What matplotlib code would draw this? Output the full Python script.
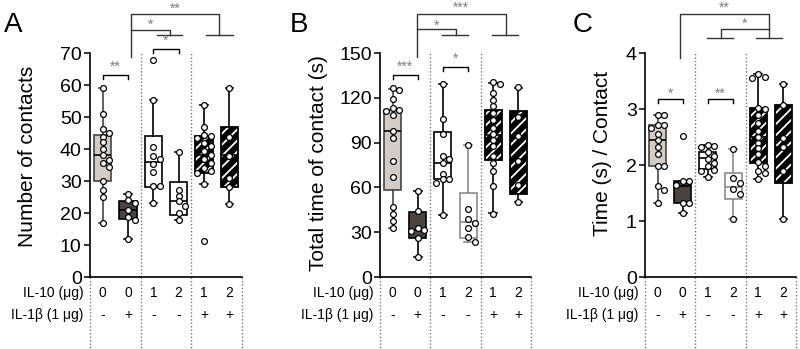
import matplotlib
matplotlib.use("Agg")
import matplotlib.pyplot as plt
import matplotlib.transforms as mtrans
from matplotlib.patches import PathPatch

plt.rcParams['font.family'] = ['Liberation Sans', 'DejaVu Sans']
plt.rcParams['hatch.linewidth'] = 1.3

# ---- data ----
il10_doses = ['0', '0', '1', '2', '1', '2']
il1b_flags = ['-', '+', '-', '-', '+', '+']
positions = [0.5, 1.5, 2.5, 3.5, 4.5, 5.5]

# box stats: (whislo, q1, median, q3, whishi)
box_a = [(16.8, 30.0, 38.0, 44.5, 59.0),
         (12.0, 18.2, 21.0, 23.6, 26.0),
         (23.0, 28.2, 35.9, 44.0, 55.3),
         (17.8, 19.4, 23.9, 29.8, 39.0),
         (29.2, 32.5, 38.0, 44.2, 53.6),
         (22.8, 28.1, 38.0, 46.8, 59.0)]
pts_a = [[59, 50.9, 46.2, 45.1, 43.9, 42.2, 40, 38, 36.6, 35.7, 34.3, 29.9, 27.2, 25.1, 16.9],
         [26, 24, 23, 21, 18.8, 17.8, 12],
         [67.8, 55.3, 40.6, 37.7, 36.9, 35.3, 32.8, 28.4, 28.4, 23],
         [39, 27.2, 25.4, 23.8, 22.3, 20.1, 17.8],
         [53.6, 47, 44.5, 44, 43.5, 42, 41, 39.5, 38, 37, 35.5, 34, 33, 32.5, 29.2, 11.2],
         [59, 43.6, 37.8, 31, 28.2, 22.8]]

box_b = [(33.0, 58.0, 97.8, 112.0, 125.7),
         (13.5, 26.4, 31.5, 43.8, 57.5),
         (41.5, 65.4, 76.5, 97.3, 129.0),
         (23.3, 26.0, 36.6, 56.0, 88.5),
         (42.6, 78.3, 95.0, 111.8, 129.7),
         (50.4, 55.4, 78.0, 111.4, 126.3)]
pts_b = [[126.5, 125.5, 119, 113.5, 112, 111, 108.5, 98, 93, 78, 67, 47, 42, 37.5, 32.5],
         [57.5, 44.5, 33, 31.5, 31, 26, 13.5],
         [129.5, 105.5, 95.5, 81, 79, 76.5, 69, 65.5, 65.5, 63, 41.5],
         [88.5, 45.3, 39, 36, 32.5, 26.5, 23.5],
         [130.5, 129.5, 123, 118.5, 114.5, 110, 105, 100, 96, 92, 88, 81, 76.5, 71, 61, 42.5],
         [127, 107, 94.5, 78, 61.5, 50.5]]

box_c = [(1.32, 1.98, 2.45, 2.71, 2.89),
         (1.15, 1.33, 1.63, 1.72, 1.72),
         (1.79, 1.93, 2.12, 2.23, 2.35),
         (1.03, 1.39, 1.61, 1.86, 2.28),
         (1.75, 2.04, 2.50, 3.01, 3.62),
         (1.03, 1.67, 2.33, 3.07, 3.45)]
pts_c = [[2.9, 2.89, 2.72, 2.71, 2.66, 2.56, 2.45, 2.33, 2.2, 1.99, 1.98, 1.62, 1.55, 1.33],
         [2.52, 1.72, 1.71, 1.65, 1.33, 1.32, 1.15],
         [2.35, 2.34, 2.33, 2.24, 2.16, 2.1, 2.04, 1.98, 1.91, 1.9, 1.79],
         [2.28, 1.76, 1.68, 1.57, 1.49, 1.03],
         [3.62, 3.57, 3.55, 3.02, 3.0, 2.9, 2.75, 2.6, 2.5, 2.4, 2.3, 2.2, 2.05, 1.98, 1.9, 1.85, 1.75],
         [3.45, 3.07, 2.48, 2.33, 1.9, 1.03]]

face_colors = ['#d3cbc6', '#4b4340', 'white', 'white', 'black', 'black']
edge_a = ['#444444', 'black', 'black', 'black', 'black', 'black']
edge_bc = ['#444444', 'black', 'black', '#8f8a86', 'black', 'black']

W, H = 800, 349
fig = plt.figure(figsize=(W / 100, H / 100), dpi=100)

AX_TOP, AX_BOT = 53, 277
ROW1, ROW2 = 293, 315


def fy(p):
    # pixel row -> axes fraction
    return (AX_BOT - p) / (AX_BOT - AX_TOP)


def make_axes(left, right):
    return fig.add_axes([left / W, (H - AX_BOT) / H, (right - left) / W,
                         (AX_BOT - AX_TOP) / H])


def spread(vals, thr):
    xs, last, side = [], None, 1
    for v in vals:
        if last is not None and abs(v - last) < thr:
            xs.append(side * 0.26)
            side *= -1
        else:
            xs.append(0.0)
            last = v
            side = 1
    return xs


def draw_panel(ax, boxes, pts, edges, ymax, ystep, ylabel, ylab_x, ylab_y):
    stats = [dict(whislo=b[0], q1=b[1], med=b[2], q3=b[3], whishi=b[4], fliers=[])
             for b in boxes]
    bp = ax.bxp(stats, positions=positions, widths=0.68, capwidths=0.3,
                patch_artist=True, showfliers=False,
                boxprops=dict(linewidth=1.2),
                whiskerprops=dict(linewidth=1.2),
                capprops=dict(linewidth=1.2),
                medianprops=dict(linewidth=1.2, color='black'))
    for i in range(6):
        box = bp['boxes'][i]
        box.set_facecolor(face_colors[i])
        box.set_edgecolor(edges[i])
        for ln in bp['whiskers'][2 * i:2 * i + 2] + bp['caps'][2 * i:2 * i + 2]:
            ln.set_color(edges[i])
        bp['medians'][i].set_color('black' if i != 3 else edges[i])
        if i >= 4:
            # black box with white diagonal stripes
            box.set_edgecolor('white')
            box.set_hatch('///')
            box.set_linewidth(0)
            ax.add_patch(PathPatch(box.get_path(), fill=False, edgecolor='black',
                                   linewidth=1.3, zorder=box.get_zorder() + 0.1))

    thr = 0.022 * ymax
    for i, vals in enumerate(pts):
        vals = sorted(vals, reverse=True)
        offs = spread(vals, thr)
        ax.plot([positions[i] + o for o in offs], vals, 'o', ms=4.2, mfc='white',
                mec='black', mew=0.9, zorder=5, clip_on=False)

    ax.set_xlim(0, 6)
    ax.set_ylim(0, ymax)
    ax.set_yticks([ystep * k for k in range(int(round(ymax / ystep)) + 1)])
    ax.set_xticks([])
    ax.tick_params(axis='y', labelsize=14, length=4, width=1.1, pad=2)
    for s in ['top', 'right']:
        ax.spines[s].set_visible(False)
    for s in ['left', 'bottom']:
        ax.spines[s].set_linewidth(1.2)
    ax.text(ylab_x, ylab_y, ylabel, transform=ax.transAxes, rotation=90,
            ha='center', va='center', fontsize=15)

    blend = mtrans.blended_transform_factory(ax.transData, ax.transAxes)
    # group dividers
    for x in [2, 4]:
        ax.plot([x, x], [0, 1], transform=blend, color='#777777', lw=1,
                ls=(0, (1, 1.5)), zorder=0.5)
    for x in [0, 2, 4, 6]:
        ax.plot([x, x], [0, fy(H)], transform=blend, color='#777777', lw=1,
                ls=(0, (1, 1.5)), clip_on=False)
    # condition rows
    ax.text(-0.25, fy(ROW1), 'IL-10 (\u03bcg)', transform=blend, ha='right',
            va='center', fontsize=10)
    ax.text(-0.25, fy(ROW2), 'IL-1\u03b2 (1 \u03bcg)', transform=blend, ha='right',
            va='center', fontsize=10)
    for i in range(6):
        ax.text(positions[i], fy(ROW1), il10_doses[i], transform=blend,
                ha='center', va='center', fontsize=10)
        ax.text(positions[i], fy(ROW2), il1b_flags[i], transform=blend,
                ha='center', va='center', fontsize=10)
    return blend


def pair_bracket(ax, x1, x2, y, drop, label, tdy):
    ax.plot([x1, x1, x2, x2], [y - drop, y, y, y - drop], color='black', lw=1,
            clip_on=False)
    ax.text((x1 + x2) / 2, y + tdy, label, ha='center', va='center',
            fontsize=10, color='#808080', clip_on=False)


def tee(ax, blend, x1, x2, y):
    ax.plot([x1, x2], [y, y], transform=blend, color='#333333', lw=1, clip_on=False)


def line(ax, blend, xs, ys):
    ax.plot(xs, ys, transform=blend, color='#333333', lw=1, clip_on=False)


def star(ax, blend, x, y, label):
    ax.text(x, y, label, transform=blend, ha='center', va='center', fontsize=10,
            color='#808080')


# ---- panel A ----
axA = make_axes(90, 242)
bA = draw_panel(axA, box_a, pts_a, edge_a, 70, 10, 'Number of contacts', -0.41, 0.54)
pair_bracket(axA, 0.5, 1.5, 63.2, 1.3, '**', 2.6)
pair_bracket(axA, 2.5, 3.5, 71.2, 1.3, '*', 2.6)
line(axA, bA, [1.62, 1.62, 5.09, 5.09], [fy(57), fy(14), fy(14), fy(35)])
tee(axA, bA, 4.58, 5.65, fy(35))
line(axA, bA, [1.62, 3.16, 3.16], [fy(30), fy(30), fy(35)])
tee(axA, bA, 2.65, 3.63, fy(35))
star(axA, bA, 3.36, fy(9), '**')
star(axA, bA, 2.39, fy(25), '*')

# ---- panel B ----
axB = make_axes(380, 531)
bB = draw_panel(axB, box_b, pts_b, edge_bc, 150, 30, 'Total time of contact (s)', -0.41, 0.51)
pair_bracket(axB, 0.5, 1.5, 135.4, 2.8, '***', 5.5)
pair_bracket(axB, 2.5, 3.5, 140.6, 2.8, '*', 5.5)
line(axB, bB, [1.46, 1.46, 4.99, 4.99], [fy(57), fy(14), fy(14), fy(35)])
tee(axB, bB, 4.44, 5.47, fy(35))
line(axB, bB, [1.46, 3.02, 3.02], [fy(29.3), fy(29.3), fy(35)])
tee(axB, bB, 2.48, 3.51, fy(35))
star(axB, bB, 3.22, fy(8), '***')
star(axB, bB, 2.24, fy(26), '*')

# ---- panel C ----
axC = make_axes(645, 796)
bC = draw_panel(axC, box_c, pts_c, edge_bc, 4, 1, 'Time (s) / Contact', -0.28, 0.55)
pair_bracket(axC, 0.5, 1.5, 3.18, 0.08, '*', 0.1)
pair_bracket(axC, 2.5, 3.5, 3.18, 0.08, '**', 0.1)
line(axC, bC, [1.38, 1.38, 4.94, 4.94], [fy(58), fy(14), fy(14), fy(38)])
tee(axC, bC, 4.41, 5.43, fy(38))
line(axC, bC, [3.0, 3.0, 4.94], [fy(38), fy(29), fy(29)])
tee(axC, bC, 2.48, 3.49, fy(38))
star(axC, bC, 3.16, fy(8), '**')
star(axC, bC, 3.97, fy(24), '*')

# panel letters
for lab, xpx in [('A', 13.5), ('B', 298.5), ('C', 583)]:
    fig.text(xpx / W, 1 - 25 / H, lab, ha='center', va='center', fontsize=20)

fig.savefig('out.png', dpi=100)
